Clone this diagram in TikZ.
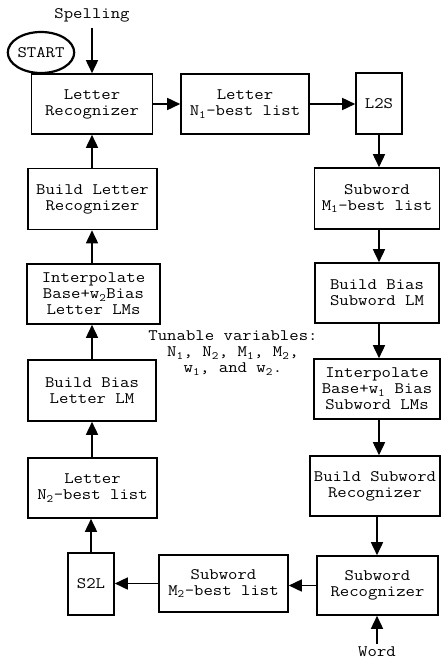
\documentclass[tikz,border=0pt]{standalone}
\usepackage{fontspec}
\setmainfont{Latin Modern Mono}[FakeStretch=1.14]
\usetikzlibrary{arrows.meta,shapes.geometric}
\newcommand{\sbs}[1]{\textsubscript{#1}}
\begin{document}
\begin{tikzpicture}[x=1pt,y=-1pt,
  every node/.style={font=\fontsize{16}{16}\selectfont, align=center, inner sep=0pt},
  box/.style={draw, line width=1.6pt, minimum height=60pt},
  arr/.style={line width=1.6pt, -{Triangle[length=13pt,width=12pt]}}]
\useasboundingbox (0,0) rectangle (441,659);
% left column
\node[box, minimum width=121pt] (lr) at (92,104) {Letter\\Recognizer};
\node[draw, ellipse, line width=2.2pt, minimum width=66pt, minimum height=41pt] (start) at (41,52.5) {START};
\node (spell) at (92,15) {Spelling};
\node[box, minimum width=129pt, minimum height=61pt] (blr) at (92.5,199) {Build Letter\\ Recognizer};
\node[box, minimum width=133pt] (ilm) at (93.5,294) {Interpolate\\Base+w\sbs{2}Bias\\Letter LMs};
\node[box, minimum width=128pt, minimum height=61pt] (bbl) at (92,390.5) {Build Bias\\Letter LM};
\node[box, minimum width=129pt] (ln2) at (92.5,488) {Letter\\N\sbs{2}-best list};
\node[box, minimum width=46pt, minimum height=62pt] (s2l) at (91,584) {S2L};
% top row
\node[box, minimum width=128pt] (ln1) at (245,104) {Letter\\N\sbs{1}-best list};
\node[box, minimum width=46pt, minimum height=61pt] (l2s) at (379,103.5) {L2S};
% right column
\node[box, minimum width=125pt, minimum height=61pt] (sm1) at (377,198.5) {Subword\\M\sbs{1}-best list};
\node[box, minimum width=124pt] (bbs) at (377,293) {Build Bias\\Subword LM};
\node[box, minimum width=126pt] (isl) at (377,389) {Interpolate\\Base+w\sbs{1} Bias\\Subword LMs};
\node[box, minimum width=130pt] (bsr) at (375,486) {Build Subword\\Recognizer};
\node[box, minimum width=121pt, minimum height=59pt] (sr) at (377.5,585.5) {Subword\\Recognizer};
\node[box, minimum width=129pt, minimum height=57pt] (sm2) at (223.5,583.5) {Subword\\M\sbs{2}-best list};
\node (word) at (377,652) {Word};
\node (tun) at (233,353) {Tunable variables:\\N\sbs{1}, N\sbs{2}, M\sbs{1}, M\sbs{2},\\w\sbs{1}, and w\sbs{2}.};
% connectors
\coordinate (spt) at (92,28);
\coordinate (wt) at (377,644);
\draw[arr] (spt) -- (lr.north -| spt);
\draw[arr] (lr.east) -- (ln1.west);
\draw[arr] (ln1.east) -- (l2s.west |- ln1.east);
\draw[arr] (l2s.south) -- (sm1.north -| l2s.south);
\draw[arr] (sm1.south -| l2s.south) -- (bbs.north -| l2s.south);
\draw[arr] (bbs.south -| l2s.south) -- (isl.north -| l2s.south);
\draw[arr] (isl.south -| l2s.south) -- (bsr.north -| l2s.south);
\draw[arr] (bsr.south -| wt) -- (sr.north -| wt);
\draw[arr] (wt) -- (sr.south -| wt);
\draw[arr] (sr.west) -- (sm2.east |- sr.west);
\draw[arr] (sm2.west) -- (s2l.east |- sm2.west);
\draw[arr] (s2l.north) -- (ln2.south -| s2l.north);
\draw[arr] (ln2.north -| spt) -- (bbl.south -| spt);
\draw[arr] (bbl.north -| spt) -- (ilm.south -| spt);
\draw[arr] (ilm.north -| spt) -- (blr.south -| spt);
\draw[arr] (blr.north -| spt) -- (lr.south -| spt);
\end{tikzpicture}
\end{document}
